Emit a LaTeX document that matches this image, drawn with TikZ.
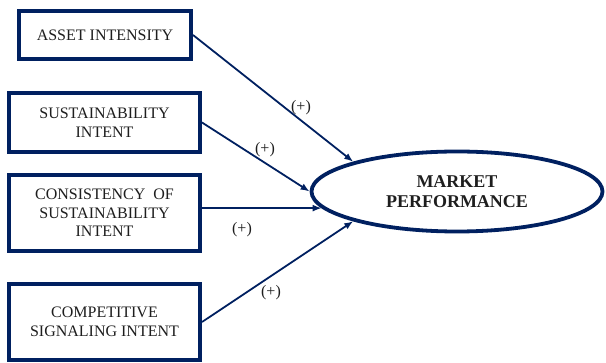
\documentclass[tikz,border=0pt]{standalone}
\usepackage{fontspec}
\setmainfont{Liberation Serif}
\usetikzlibrary{arrows.meta,shapes.geometric}
\definecolor{navy}{HTML}{002060}
\definecolor{ink}{HTML}{1E1E1E}
\begin{document}
\begin{tikzpicture}[x=1pt,y=-1pt,
  varbox/.style={draw=navy,line width=4pt,fill=white,inner sep=0pt,
    align=center,text=ink,font=\fontsize{16}{18.7}\selectfont},
  outcome/.style={draw=navy,line width=3.8pt,ellipse,inner sep=0pt,
    align=center,text=ink,font=\fontsize{18}{20.5}\selectfont\bfseries},
  link/.style={draw=navy,line width=1.8pt,-{Latex[length=9pt,width=7pt]}},
  sign/.style={text=ink,font=\fontsize{16}{18}\selectfont,inner sep=0pt}]
\useasboundingbox (0,0) rectangle (606,363);

% predictor boxes
\node[varbox,minimum width=172,minimum height=48] (ai) at (105,35) {ASSET INTENSITY};
\node[varbox,minimum width=191,minimum height=59] (si) at (104.5,122.5) {SUSTAINABILITY\\INTENT};
\node[varbox,minimum width=191,minimum height=76] (cs) at (104.5,213) {CONSISTENCY~~OF\\SUSTAINABILITY\\INTENT};
\node[varbox,minimum width=191,minimum height=76] (cg) at (104.5,322) {COMPETITIVE\\SIGNALING INTENT};

% outcome
\node[outcome,minimum width=291,minimum height=80] (mp) at (457,191.5) {MARKET\\PERFORMANCE};

% paths
\draw[link] (ai.east) -- (mp.164.6);
\draw[link] (si.east) -- (mp.180);
\draw[link] (cs.east |- mp.187) -- (mp.187);
\draw[link] (cg.east) -- (mp.196.6);

% signs
\node[sign] (s1) at (301,108) {(+)};
\node[sign] (s2) at (265,150) {(+)};
\node[sign] (s3) at (242,230) {(+)};
\node[sign] (s4) at (271,293) {(+)};
\end{tikzpicture}
\end{document}
